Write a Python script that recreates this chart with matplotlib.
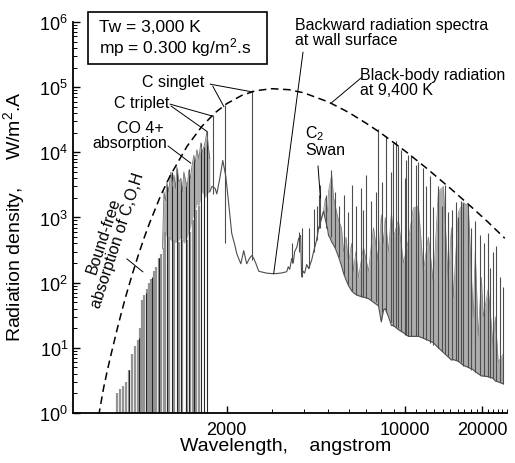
import matplotlib
matplotlib.use('Agg')
import matplotlib.pyplot as plt
from matplotlib.patches import Rectangle
from matplotlib.ticker import FixedLocator, FixedFormatter, NullFormatter

plt.rcParams['font.family'] = ['Liberation Sans', 'DejaVu Sans']
plt.rcParams['mathtext.fontset'] = 'custom'
plt.rcParams['mathtext.rm'] = 'Liberation Sans'
plt.rcParams['mathtext.it'] = 'Liberation Sans:italic'
plt.rcParams['mathtext.bf'] = 'Liberation Sans:bold'

# black-body radiation at 9,400 K (dashed curve)
bb_wl = [630, 660, 680, 700, 750, 800, 850, 900, 950, 1000, 1100, 1200, 1400, 1600, 1800,
         2000, 2300, 2600, 3000, 3500, 4000, 5000, 6000, 7000, 8000, 10000, 12000, 15000,
         18000, 21000, 24500]
bb_val = [0.9, 2.5, 4.3, 7.1, 21.7, 57, 128, 261, 491, 845, 2130, 4360, 12500, 25200, 40500,
          55900, 75500, 88300, 94800, 91500, 82000, 59300, 41000, 28200, 19900, 10400, 5870, 2800,
          1490, 860, 480]

# short-wavelength line forest (lines standing on the axis)
forest_wl = [744, 764, 785, 806, 829, 851, 874, 898, 914, 931, 948, 974, 992, 1010, 1037, 1056,
             1085, 1104, 1135, 1150, 1190, 1240, 1300, 1340, 1400, 1440, 1470, 1510, 1550]
forest_top = [2.0, 2.3, 2.6, 3.0, 4.5, 8, 10.5, 13, 20, 55, 65, 80, 100, 115, 150, 176,
              235, 280, 335, 600, 500, 450, 420, 450, 450, 600, 900, 1300, 1500]
dark_wl = [829, 906, 965, 1019, 1085, 1166, 1219, 1275, 1322, 1383, 1421, 1486, 1583, 1626, 1671]
dark_top = [4.5, 14, 70, 120, 235, 3000, 5000, 5500, 3500, 3000, 5500, 8000, 14000, 12000, 21000]

# CO 4+ absorption block
band_wl = [1120, 1135, 1150, 1166, 1185, 1208, 1225, 1242, 1260, 1275, 1300, 1322, 1340, 1358,
           1383, 1400, 1421, 1440, 1460, 1486, 1505, 1527, 1555, 1583, 1600, 1626, 1650, 1671,
           1690, 1716]
band_hi = [335, 2500, 1800, 3500, 2500, 5000, 3000, 4500, 2800, 6000, 3500, 4000, 2500, 5000,
           3500, 3000, 5300, 4000, 6000, 9000, 7000, 11000, 8000, 14000, 10000, 12000, 15000, 21000,
           13000, 8000]
band_lo = [300, 600, 550, 500, 480, 450, 430, 400, 420, 420, 450, 500, 450, 400,
           450, 500, 600, 700, 900, 1100, 1300, 1600, 1500, 2000, 2500, 2200, 2000, 2300,
           2400, 2500]

# continuum between the bands
mid_wl = [1716, 1750, 1800, 1828, 1878, 1929, 1950, 1982, 2036, 2091, 2149, 2188, 2230, 2270,
          2330, 2393, 2460, 2504, 2550, 2596, 2667, 2716, 2866, 3052, 3250, 3431, 3480, 3526,
          3590, 3640, 3688, 3760, 3822, 3891, 3926, 3980, 4034, 4110, 4182, 4296, 4374, 4494,
          4576]
mid_val = [2500, 3000, 2800, 2300, 4000, 7500, 6000, 4300, 1600, 570, 380, 280, 230, 195,
           310, 195, 240, 260, 235, 200, 150, 147, 140, 137, 140, 147, 175, 160,
           235, 200, 300, 350, 475, 530, 123, 150, 140, 190, 165, 220, 300, 450,
           680]

# long-wavelength dense region
right_wl = [4576, 4786, 4870, 4950, 5004, 5080, 5150, 5236, 5320, 5476, 5620, 5728, 5860, 5992,
            6160, 6266, 6400, 6555, 6856, 7171, 7501, 7849, 8050, 8209, 8340, 8588, 8820, 8982,
            9395, 9828, 10280, 10752, 11247, 11764, 12305, 12871, 13463, 14082, 14730, 15140,
            15408, 16116, 16858, 17633, 18444, 18770, 19293, 19840, 20180, 21109, 22080, 22480,
            23095, 24158]
right_lo = [680, 1240, 900, 700, 530, 480, 420, 380, 335, 250, 183, 140, 110, 90,
            75, 70, 66, 63, 60, 57, 50, 44, 25, 38, 40, 30, 22, 22,
            19, 17, 15, 15, 15, 14, 13, 12, 10, 8.5, 7.2, 6.5,
            6.6, 6.2, 5.4, 5.0, 4.6, 4.3, 4.0, 3.7, 3.7, 3.6, 3.4, 3.1,
            3.0, 2.8]
right_hi = [680, 1300, 2000, 1200, 2500, 3500, 4500, 2000, 1500, 900, 700, 300, 500, 200,
            400, 150, 300, 120, 350, 150, 700, 200, 1100, 400, 1000, 300, 1200, 500,
            900, 200, 450, 1400, 1500, 150, 500, 100, 2500, 3000, 100, 700,
            60, 1200, 1700, 1500, 30, 300, 15, 120, 30, 80, 10, 30,
            6, 8]

# emission spikes: wavelength, top, foot
spike_wl = [1760, 1964, 2504, 3590, 3822, 3926, 4182, 4374, 4494, 4576,
            4630, 4870, 5120, 5300, 5476, 5728, 5940, 6160, 6400, 6690, 6856, 7020, 7330, 7650,
            7849, 8120, 8430, 8780, 8982, 9160, 9395, 9620, 9960, 10100, 10280, 10560, 11000,
            11250, 11680, 12080, 12520, 12870, 13460, 13950, 14250, 14730, 15270, 15790, 16120,
            16490, 16860, 17630, 18110, 18770, 19640, 20360, 21110, 21490, 22080, 22680, 23520,
            24158]
spike_top = [37000, 53000, 90000, 400, 600, 680, 700, 1370, 1500, 2200,
             3100, 2200, 5300, 2500, 1500, 2200, 1200, 3100, 1500, 2800, 1300, 4500, 1800, 2500,
             23000, 3500, 17500, 5000, 14000, 15000, 13000, 11000, 4000, 7500, 9000, 9000, 6300,
             7200, 5700, 3000, 4300, 1470, 3000, 1500, 3100, 1200, 1300, 1750, 1000,
             1800, 1640, 1600, 700, 870, 530, 400, 570, 165, 300, 370, 120,
             87]
spike_bot = [2300, 400, 220, 200, 300, 123, 165, 300, 450, 680,
             700, 700, 500, 350, 250, 130, 95, 75, 65, 60, 60, 58, 55, 50,
             44, 35, 35, 25, 22, 21, 20, 18, 16, 16, 15, 15, 15,
             15, 14, 13, 12, 11, 10, 9, 8, 7.5, 6.8, 6.5, 6.2,
             6, 5.3, 5, 4.6, 4.3, 3.8, 3.7, 3.6, 3.5, 3.3, 3.1, 3.0,
             2.8]

fig, ax = plt.subplots(figsize=(5.15, 4.64), dpi=100)
fig.subplots_adjust(left=0.1417, right=0.9845, bottom=0.1078, top=0.9504)
ax.set_xscale('log')
ax.set_yscale('log')

line_c = '0.3'
fill_c = '0.68'
ax.vlines(forest_wl, 1, forest_top, colors='0.58', lw=1.6)
ax.vlines(dark_wl, 1, dark_top, colors='0.15', lw=0.8)
ax.fill_between(band_wl, band_lo, band_hi, color=fill_c, lw=0)
ax.plot(band_wl, band_hi, color='0.45', lw=0.6)
ax.fill_between(right_wl, right_lo, right_hi, color=fill_c, lw=0)
ax.plot(right_wl, right_hi, color='0.5', lw=0.5)
ax.plot(mid_wl, mid_val, color=line_c, lw=0.8)
ax.plot(right_wl, right_lo, color=line_c, lw=0.8)
ax.vlines(spike_wl, spike_bot, spike_top, colors=line_c, lw=0.8)
ax.plot(bb_wl, bb_val, color='k', lw=1.1, dashes=(5, 3))

ax.set_xlim(500, 25000)
ax.set_ylim(1, 1e6)

ax.xaxis.set_major_locator(FixedLocator([1000, 2000, 10000, 20000]))
ax.xaxis.set_major_formatter(FixedFormatter(['', '2000', '10000', '20000']))
ax.xaxis.set_minor_locator(FixedLocator([3000, 4000, 5000, 6000, 7000, 8000, 9000] +
                                        list(range(11000, 26000, 1000))))
ax.xaxis.set_minor_formatter(NullFormatter())
ax.yaxis.set_major_locator(FixedLocator([1, 10, 100, 1e3, 1e4, 1e5, 1e6]))
ax.yaxis.set_major_formatter(FixedFormatter([r'$10^{%d}$' % i for i in range(7)]))
ax.tick_params(which='both', direction='in', labelsize=13)
ax.tick_params(which='major', length=5, width=1)
ax.tick_params(which='minor', length=3, width=0.7)
ax.tick_params(axis='x', pad=6)

for side in ['top', 'right']:
    ax.spines[side].set_visible(False)
for side in ['left', 'bottom']:
    ax.spines[side].set_linewidth(1.3)

ax.set_xlabel('Wavelength,    angstrom', fontsize=14)
ax.xaxis.set_label_coords(0.49, -0.062)
ax.set_ylabel('Radiation density,     W/m$^2$.A', fontsize=14)
ax.yaxis.set_label_coords(-0.105, 0.506)

# condition box
ax.add_patch(Rectangle((0.035, 0.893), 0.412, 0.133, transform=ax.transAxes,
                       fill=False, lw=1.2, color='k', clip_on=False))
ax.text(0.060, 0.958, 'Tw = 3,000 K\nmp = 0.300 kg/m$^2$.s', transform=ax.transAxes,
        fontsize=12.5, ha='left', va='center', linespacing=1.05)

# annotations
fs = 11.5
ax.text(0.230, 0.849, 'C singlet', transform=ax.transAxes, fontsize=fs, ha='center', va='center')
ax.text(0.158, 0.795, 'C triplet', transform=ax.transAxes, fontsize=fs, ha='center', va='center')
ax.text(0.208, 0.731, 'CO 4+', transform=ax.transAxes, fontsize=fs, ha='right', va='center')
ax.text(0.217, 0.693, 'absorption', transform=ax.transAxes, fontsize=fs, ha='right', va='center')
ax.text(0.5115, 1.013, 'Backward radiation spectra\nat wall surface', transform=ax.transAxes,
        fontsize=fs, ha='left', va='top', linespacing=1.0)
ax.text(0.661, 0.885, 'Black-body radiation\nat 9,400 K', transform=ax.transAxes,
        fontsize=fs, ha='left', va='top', linespacing=1.0)
ax.text(0.5346, 0.740, 'C$_2$\nSwan', transform=ax.transAxes,
        fontsize=fs, ha='left', va='top', linespacing=0.95)
ax.text(0.0876, 0.450, 'Bound-free\nabsorption of C,O,H', transform=ax.transAxes,
        fontsize=fs, ha='center', va='center', rotation=72, rotation_mode='anchor',
        multialignment='center', linespacing=1.0)

pointers = [
    ((0.316, 0.841), (2504, 85000)),
    ((0.322, 0.836), (1950, 50000)),
    ((0.2235, 0.790), (1760, 36000)),
    ((0.226, 0.785), (1671, 21000)),
    ((0.219, 0.683), (1447, 6800)),
    ((0.530, 0.923), (3052, 137)),
    ((0.666, 0.859), (5150, 58000)),
    ((0.5645, 0.632), (4650, 2000)),
]
for start, target in pointers:
    ax.annotate('', xy=target, xycoords='data', xytext=start, textcoords='axes fraction',
                arrowprops=dict(arrowstyle='-', lw=0.7, color='k', shrinkA=0, shrinkB=0))
# tick across the dashed curve for the bound-free label
ax.plot([0.1244, 0.161], [0.394, 0.361], color='k', lw=0.7, transform=ax.transAxes)

fig.savefig('out.png', dpi=100)
